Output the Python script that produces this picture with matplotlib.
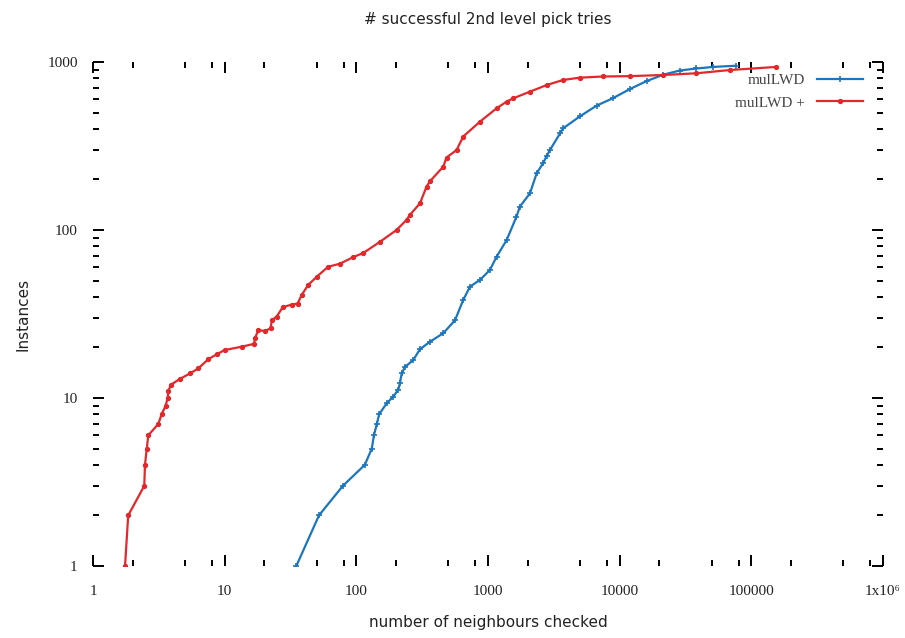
import matplotlib
matplotlib.use("Agg")
import matplotlib.pyplot as plt
from matplotlib.ticker import LogLocator, NullFormatter, FixedLocator, FixedFormatter

# values
mullwd_x = [35, 52, 79, 116, 131, 136, 143, 149, 170, 191, 208, 214, 221, 234,
            270, 304, 362, 457, 561, 648, 729, 868, 1033, 1161, 1384, 1644,
            1747, 2080, 2338, 2612, 2787, 2950, 3525, 3720, 4993, 6680, 8920,
            11950, 16000, 21400, 28600, 38300, 51300, 76000]
mullwd_y = [1, 2, 3, 4, 5, 6, 7, 8, 9.3, 10.2, 11.2, 12.2, 14, 15.3,
            16.8, 19.5, 21.6, 24.3, 29, 38.3, 46, 50.4, 57.8, 69.3, 87, 120,
            138, 165, 217, 249, 275, 299, 376, 403, 475, 550, 610,
            690, 770, 840, 890, 915, 935, 950]

mullwd_plus_x = [1.75, 1.85, 2.45, 2.48, 2.56, 2.63, 3.13, 3.32, 3.56, 3.69,
                 3.73, 3.91, 4.58, 5.45, 6.3, 7.5, 8.7, 10, 13.5, 16.7, 17,
                 18, 20.2, 22.3, 22.8, 24.8, 27.6, 32.3, 35.8, 38.4, 43, 50,
                 61, 75, 95, 113, 151, 202, 241, 255, 304, 341, 362, 457,
                 484, 577, 648, 867, 1161, 1384, 1556, 2080, 2787, 3720,
                 4990, 7500, 11950, 21400, 38300, 68700, 155000]
mullwd_plus_y = [1, 2, 3, 4, 5, 6, 7, 8, 9, 10, 11, 12, 13, 14, 15, 17,
                 18.2, 19.3, 20.2, 21, 22.7, 25.4, 25, 26, 29, 30.5, 34.7,
                 36, 36.5, 41, 47, 52.7, 60.4, 63, 69, 73, 85, 100, 115, 123,
                 144, 181, 195, 238, 270, 299, 360, 441, 530, 581, 608, 666,
                 729, 782, 807, 820, 824, 837, 857, 896, 935]

x_ticks = [1, 10, 100, 1000, 10000, 100000, 1000000]
x_tick_labels = ["1", "10", "100", "1000", "10000", "100000", "1x10\u2076"]
y_ticks = [1, 10, 100, 1000]
y_tick_labels = ["1", "10", "100", "1000"]

blue = "#1c76bd"
red = "#e3282b"

fig = plt.figure(figsize=(9.05, 6.38), dpi=100)
ax = fig.add_axes([0.1028, 0.1129, 0.8729, 0.7899])

ax.plot(mullwd_x, mullwd_y, color=blue, lw=1.6, marker="+", ms=4, mew=1.2,
        label="mulLWD")
ax.plot(mullwd_plus_x, mullwd_plus_y, color=red, lw=1.6, marker="o", ms=2.8,
        label="mulLWD +")

ax.set_xscale("log")
ax.set_yscale("log")
ax.set_xlim(1, 1e6)
ax.set_ylim(1, 1000)

for s in ax.spines.values():
    s.set_visible(False)

ax.xaxis.set_major_locator(FixedLocator(x_ticks))
ax.xaxis.set_major_formatter(FixedFormatter(x_tick_labels))
ax.xaxis.set_minor_locator(LogLocator(base=10, subs=(2, 5, 8)))
ax.xaxis.set_minor_formatter(NullFormatter())
ax.yaxis.set_major_locator(FixedLocator(y_ticks))
ax.yaxis.set_major_formatter(FixedFormatter(y_tick_labels))
ax.yaxis.set_minor_locator(LogLocator(base=10, subs=range(2, 10)))
ax.yaxis.set_minor_formatter(NullFormatter())

ax.tick_params(which="both", direction="in", top=True, right=True,
               color="black", width=1.4)
ax.tick_params(which="major", length=8)
ax.tick_params(which="minor", length=4)
ax.tick_params(axis="x", which="major", pad=14)
ax.tick_params(axis="y", which="major", pad=11)
for lab in ax.get_xticklabels() + ax.get_yticklabels():
    lab.set_fontfamily("Liberation Serif")
    lab.set_fontsize(11)
    lab.set_color("#222222")

ax.set_xlabel("number of neighbours checked", fontsize=11, color="#222222",
              labelpad=12)
ax.set_ylabel("Instances", fontsize=11, color="#222222", labelpad=12)
fig.text(0.539, 0.970, "# successful 2nd level pick tries", ha="center",
         va="center", fontsize=11, color="#222222")

leg = ax.legend(loc="upper right", bbox_to_anchor=(0.992, 1.005),
                frameon=False, markerfirst=False, numpoints=1,
                handlelength=3.0, labelspacing=0.6,
                prop={"family": "Liberation Serif", "size": 11})
for t in leg.get_texts():
    t.set_color("#444444")

fig.savefig("out.png", dpi=100)
